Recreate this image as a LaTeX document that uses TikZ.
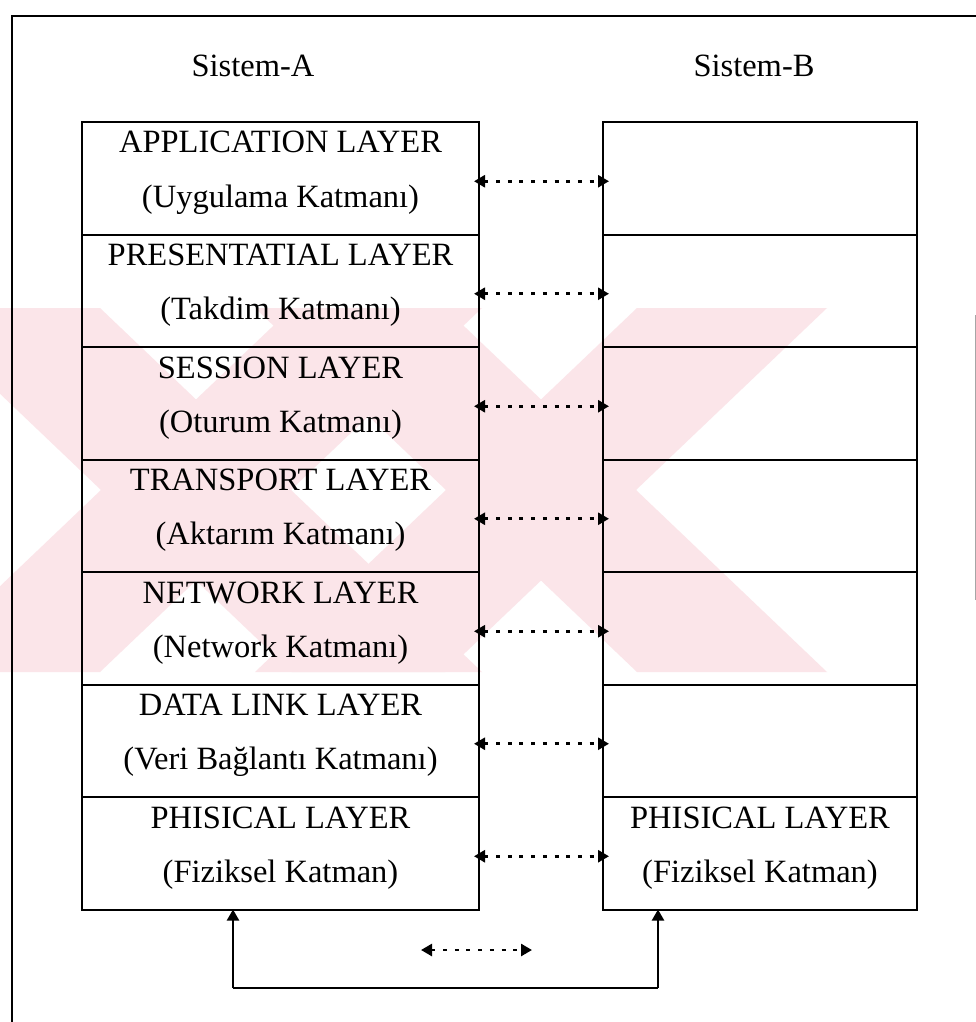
\documentclass[tikz,border=0pt]{standalone}
\usepackage{fontspec}
\setmainfont{Liberation Serif}
\usetikzlibrary{arrows.meta,calc}

\definecolor{wmpink}{RGB}{251,229,233}

\tikzset{
  layer/.style={draw=black, line width=2pt, minimum width=#1, minimum height=112.5pt,
                inner sep=0pt, outer sep=0pt},
  txt/.style={font=\fontsize{32.5}{38}\selectfont, inner sep=0pt, anchor=base},
  peer/.style={line width=2.6pt, dash pattern=on 4pt off 7.7pt,
               {Triangle[length=11pt,width=12pt]}-{Triangle[length=11pt,width=12pt]}},
  wire/.style={line width=2.2pt, -{Triangle[length=11pt,width=12pt]}},
  frame/.style={line width=2.2pt},
  wm/.style={fill=wmpink, draw=none}
}

\begin{document}
\begin{tikzpicture}[x=1pt,y=-1pt]
  \useasboundingbox (0,0) rectangle (976,1022);
  \fill[white] (0,0) rectangle (976,1022);

  % pale crossed-band pattern in the background
  \begin{scope}
    \clip (0,308) rectangle (976,672);
    \foreach \c in {196,541}{
      \fill[wm] (\c-286,308) -- (\c-96,308) -- (\c+286,672) -- (\c+96,672) -- cycle;
      \fill[wm] (\c+96,308) -- (\c+286,308) -- (\c-96,672) -- (\c-286,672) -- cycle;
    }
  \end{scope}

  % page frame
  \coordinate (f0) at (12,1022);
  \coordinate (f1) at (12,16);
  \coordinate (f2) at (976,16);
  \draw[frame] (f0) -- (f1) -- (f2);
  \coordinate (g0) at (975,315);
  \coordinate (g1) at (975,600);
  \draw[line width=1pt, black!35] (g0) -- (g1);

  % headings
  \node[txt] (hA) at (253,77) {Sistem-A};
  \node[txt] (hB) at (754,77) {Sistem-B};

  % layer stacks
  \foreach \i/\top in {1/122,2/234.5,3/347,4/459.5,5/572,6/684.5,7/797}{
    \node[layer=397pt] (A\i) at (280.5,\top+56.25) {};
    \node[layer=314pt] (B\i) at (760,\top+56.25) {};
  }

  \foreach \i/\a/\b in {
    1/APPLICATION LAYER/(Uygulama Katmanı),
    2/PRESENTATIAL LAYER/(Takdim Katmanı),
    3/SESSION LAYER/(Oturum Katmanı),
    4/TRANSPORT LAYER/(Aktarım Katmanı),
    5/NETWORK LAYER/(Network Katmanı),
    6/DATA LINK LAYER/(Veri Bağlantı Katmanı),
    7/PHISICAL LAYER/(Fiziksel Katman)}{
    \node[txt] (A\i a) at ($(A\i.north)+(0,31)$) {\a};
    \node[txt] (A\i b) at ($(A\i.north)+(0,85)$) {\b};
  }
  \node[txt] (B7a) at ($(B7.north)+(0,31)$) {PHISICAL LAYER};
  \node[txt] (B7b) at ($(B7.north)+(0,85)$) {(Fiziksel Katman)};

  % peer-to-peer links between matching layers
  \foreach \i in {1,...,7}{
    \draw[peer] ($(A\i.east)+(-5,3)$) -- ($(B\i.west)+(6,3)$);
  }

  % physical medium
  \coordinate (m0) at (421,950);
  \coordinate (m1) at (532,950);
  \draw[peer] (m0) -- (m1);
  \coordinate (pa) at (233,988);
  \coordinate (pb) at (658,988);
  \draw[wire] (pa) -- (pa |- A7.south);
  \draw[wire] (pb) -- (pb |- B7.south);
  \draw[line width=2.2pt] (pa) -- (pb);
\end{tikzpicture}
\end{document}
